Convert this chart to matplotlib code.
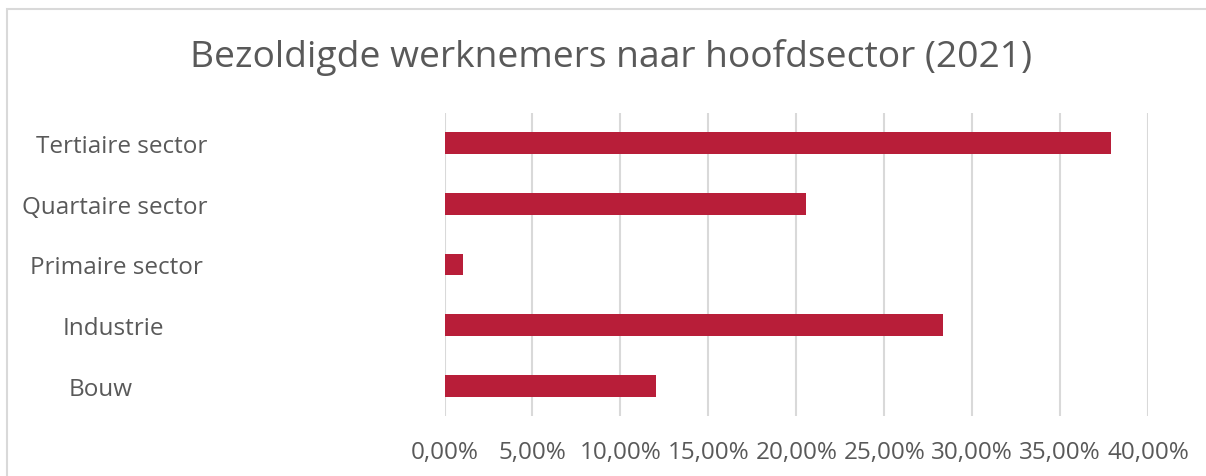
import matplotlib
matplotlib.use("Agg")
import matplotlib.pyplot as plt
import matplotlib.transforms as mtransforms
from matplotlib.patches import Rectangle

categories = ["Tertiaire sector", "Quartaire sector", "Primaire sector", "Industrie", "Bouw"]
values = [37.9, 20.55, 1.05, 28.35, 12.05]  # percent
xticks = [0, 5, 10, 15, 20, 25, 30, 35, 40]
xtick_labels = ["0,00%", "5,00%", "10,00%", "15,00%", "20,00%", "25,00%", "30,00%", "35,00%", "40,00%"]
title = "Bezoldigde werknemers naar hoofdsector (2021)"

BAR = "#B81E39"
TXT = "#595959"
GRID = "#D9D9D9"
FONT = ["Open Sans", "DejaVu Sans"]

W, H = 1206, 477
fig = plt.figure(figsize=(W / 100, H / 100), dpi=100)
plt.rcParams["font.family"] = FONT

# chart area border (cropped on right/bottom)
fig.patches.append(Rectangle((7 / W, -0.1), 1.2, (1 - 10 / H) + 0.1, transform=fig.transFigure,
                             fill=False, edgecolor="#D9D9D9", linewidth=1.5))

ax = fig.add_axes([444.5 / W, 1 - 417 / H, (1148 - 444.5) / W, (417 - 114) / H])
ypos = list(range(len(categories)))
ax.barh(ypos, values, height=0.36, color=BAR, zorder=3)
ax.set_ylim(len(categories) - 0.5, -0.5)
ax.set_xlim(0, 40)
ax.set_xticks(xticks)
ax.set_xticklabels(xtick_labels, fontsize=17.5, color=TXT)
ax.tick_params(axis="x", length=0, pad=17)
ax.set_yticks([])
for s in ax.spines.values():
    s.set_visible(False)
ax.grid(axis="x", color=GRID, linewidth=1.5, zorder=0)

label_centers = [122, 115, 116, 113, 101]  # px (layout)
trans = mtransforms.blended_transform_factory(fig.transFigure, ax.transData)
for i, (cat, cx) in enumerate(zip(categories, label_centers)):
    ax.text(cx / W, i, cat, transform=trans, ha="center", va="center_baseline",
            fontsize=17.5, color=TXT)

fig.text(611 / W, 1 - 58 / H, title, ha="center", va="center", fontsize=26.8, color=TXT)

fig.savefig("out.png", dpi=100)
